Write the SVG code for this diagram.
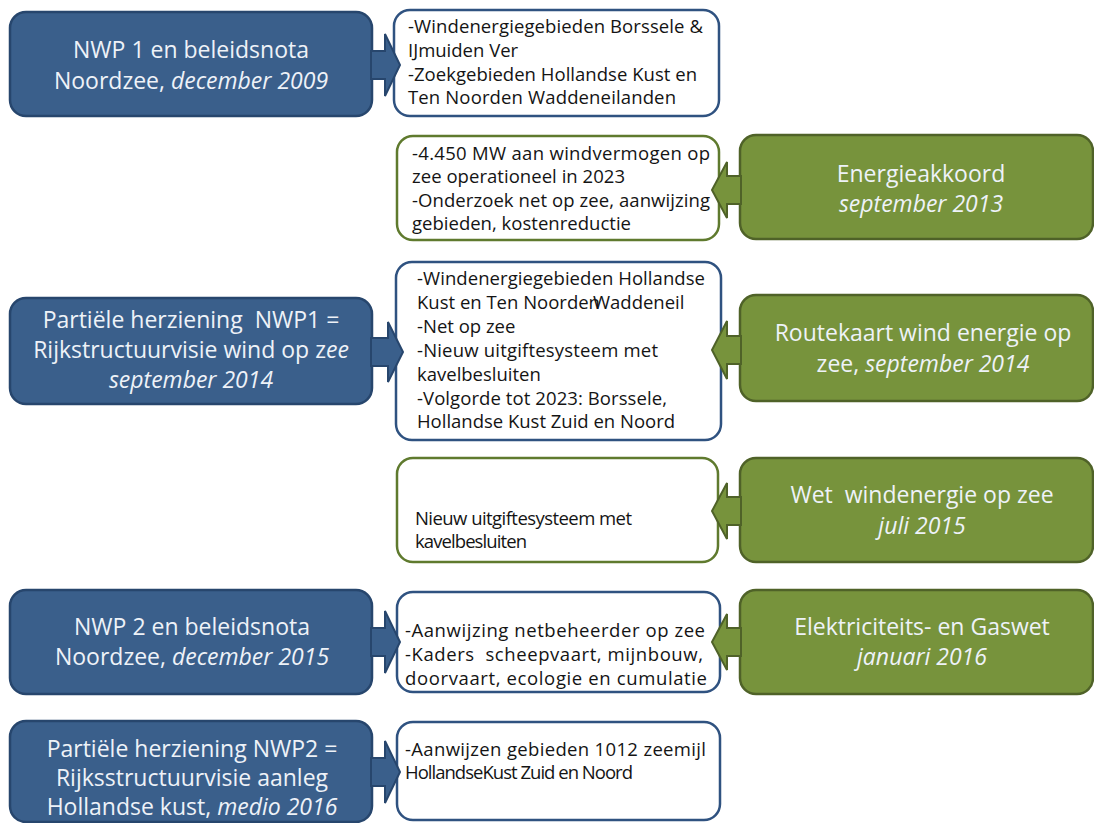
<svg xmlns="http://www.w3.org/2000/svg" width="1094" height="823" viewBox="0 0 1094 823">
<defs>
<style>
.blue{fill:#3a5f8b;stroke:#27466d;stroke-width:2.5}
.green{fill:#77933c;stroke:#4f6228;stroke-width:2.5}
.wb{fill:#ffffff;stroke:#2f5280;stroke-width:2.5}
.wg{fill:#ffffff;stroke:#5f7a2e;stroke-width:2.5}
.ab{fill:#3a5f8b;stroke:#27466d;stroke-width:2;stroke-linejoin:miter}
.ag{fill:#77933c;stroke:#4f6228;stroke-width:2;stroke-linejoin:miter}
.lt{font-family:"Open Sans","Liberation Sans",sans-serif;font-size:23px;fill:#eef2f8;text-anchor:middle}
.dt{font-family:"Open Sans","Liberation Sans",sans-serif;font-size:18.5px;font-weight:500;fill:#141414}
.it{font-style:italic}
.pre{white-space:pre}
</style>
</defs>
<rect width="1094" height="823" fill="#ffffff"/>

<g id="nwp1">
<rect class="blue" x="10" y="12" width="362" height="104" rx="16"/>
<text class="lt" x="191" y="58">NWP 1 en beleidsnota</text>
<text class="lt" x="191" y="89">Noordzee, <tspan class="it">december 2009</tspan></text>
</g>
<g id="info1">
<rect class="wb" x="394" y="10" width="325" height="106" rx="16"/>
<text class="dt" x="408" y="33" textLength="295">-Windenergiegebieden Borssele &amp;</text>
<text class="dt" x="408" y="57">IJmuiden Ver</text>
<text class="dt" x="408" y="81" textLength="289">-Zoekgebieden Hollandse Kust en</text>
<text class="dt" x="408" y="104" textLength="268">Ten Noorden Waddeneilanden</text>
</g>

<g id="info2">
<rect class="wg" x="397" y="136" width="322" height="104" rx="16"/>
<text class="dt" x="412" y="160" textLength="298">-4.450 MW aan windvermogen op</text>
<text class="dt" x="412" y="183" textLength="213">zee operationeel in 2023</text>
<text class="dt" x="412" y="207" textLength="298">-Onderzoek net op zee, aanwijzing</text>
<text class="dt" x="412" y="230" textLength="219">gebieden, kostenreductie</text>
</g>
<g id="energieakkoord">
<rect class="green" x="740" y="135" width="353" height="104" rx="16"/>
<text class="lt" x="921" y="182">Energieakkoord</text>
<text class="lt it" x="921" y="212">september 2013</text>
</g>

<g id="nwp1-herziening">
<rect class="blue" x="10" y="298" width="362" height="106" rx="16"/>
<text class="lt pre" x="191" y="328">Partiële herziening  NWP1 =</text>
<text class="lt" x="191" y="358">Rijkstructuurvisie wind op z<tspan class="it">ee</tspan></text>
<text class="lt it" x="191" y="388">september 2014</text>
</g>
<g id="info3">
<rect class="wb" x="396" y="262" width="325" height="178" rx="16"/>
<text class="dt" x="417" y="285" textLength="288">-Windenergiegebieden Hollandse</text>
<text class="dt" x="417" y="309">Kust en Ten Noorden<tspan dx="-7">Waddeneil</tspan></text>
<text class="dt" x="417" y="333">-Net op zee</text>
<text class="dt" x="417" y="357" textLength="241">-Nieuw uitgiftesysteem met</text>
<text class="dt" x="417" y="381">kavelbesluiten</text>
<text class="dt" x="417" y="405" textLength="250">-Volgorde tot 2023: Borssele,</text>
<text class="dt" x="417" y="428" textLength="258">Hollandse Kust Zuid en Noord</text>
</g>
<g id="routekaart">
<rect class="green" x="740" y="295" width="353" height="106" rx="16"/>
<text class="lt" x="923" y="341">Routekaart wind energie op</text>
<text class="lt" x="923" y="372">zee, <tspan class="it">september 2014</tspan></text>
</g>

<g id="info4">
<rect class="wg" x="397" y="458" width="321" height="104" rx="16"/>
<text class="dt" x="415" y="525" textLength="217">Nieuw uitgiftesysteem met</text>
<text class="dt" x="415" y="548" textLength="112">kavelbesluiten</text>
</g>
<g id="wet-windenergie">
<rect class="green" x="740" y="458" width="353" height="104" rx="16"/>
<text class="lt pre" x="922" y="503">Wet  windenergie op zee</text>
<text class="lt it" x="922" y="534">juli 2015</text>
</g>

<g id="nwp2">
<rect class="blue" x="10" y="590" width="362" height="104" rx="16"/>
<text class="lt" x="192" y="635">NWP 2 en beleidsnota</text>
<text class="lt" x="192" y="665">Noordzee, <tspan class="it">december 2015</tspan></text>
</g>
<g id="info5">
<rect class="wb" x="397" y="592" width="323" height="100" rx="16"/>
<text class="dt" x="405" y="637" textLength="300">-Aanwijzing netbeheerder op zee</text>
<text class="dt pre" x="405" y="661" textLength="298">-Kaders  scheepvaart, mijnbouw,</text>
<text class="dt" x="405" y="685" textLength="302">doorvaart, ecologie en cumulatie</text>
</g>
<g id="elektriciteitswet">
<rect class="green" x="740" y="590" width="353" height="104" rx="16"/>
<text class="lt" x="922" y="635">Elektriciteits- en Gaswet</text>
<text class="lt it" x="922" y="665">januari 2016</text>
</g>

<g id="nwp2-herziening">
<rect class="blue" x="10" y="721" width="362" height="101" rx="16"/>
<text class="lt" x="192" y="757">Partiële herziening NWP2 =</text>
<text class="lt" x="192" y="786">Rijksstructuurvisie aanleg</text>
<text class="lt" x="192" y="815">Hollandse kust, <tspan class="it">medio 2016</tspan></text>
</g>
<g id="info6">
<rect class="wb" x="397" y="722" width="323" height="98" rx="16"/>
<text class="dt" x="405" y="756" textLength="301">-Aanwijzen gebieden 1012 zeemijl</text>
<text class="dt" x="405" y="779" textLength="228">HollandseKust Zuid en Noord</text>
</g>

<g id="connectors">
<polygon class="ab" points="371,51 385,51 385,34 400,65 385,96 385,79 371,79"/>
<polygon class="ab" points="371,338 388,338 388,322 403,352 388,382 388,366 371,366"/>
<polygon class="ab" points="371,628 385,628 385,611 400,642 385,673 385,656 371,656"/>
<polygon class="ab" points="371,758 385,758 385,741 400,772 385,803 385,786 371,786"/>
<polygon class="ag" points="741,176 727,176 727,162 712,190 727,218 727,204 741,204"/>
<polygon class="ag" points="741,336 727,336 727,321 712,350 727,379 727,364 741,364"/>
<polygon class="ag" points="741,497 727,497 727,483 712,511 727,539 727,525 741,525"/>
<polygon class="ag" points="741,628 727,628 727,614 712,642 727,670 727,656 741,656"/>
</g>
</svg>
